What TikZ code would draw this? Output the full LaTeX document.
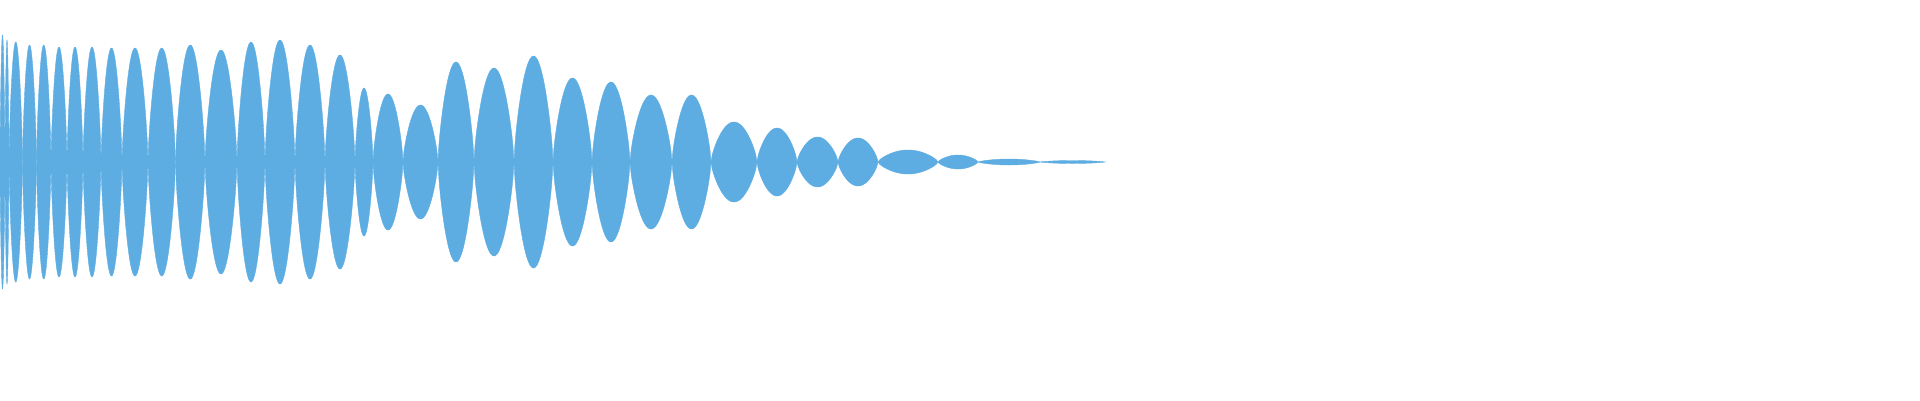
\documentclass[tikz,border=0pt]{standalone}
\definecolor{wavec}{HTML}{5DADE2}
\begin{document}
\begin{tikzpicture}[x=1pt,y=-1pt,wave/.style={fill=wavec,draw=wavec,line width=0.4pt}]
\useasboundingbox (0,0) rectangle (1920,400);
\foreach \a/\b/\t in {0/5/35,5/9/40,9/22.5/42,22.5/36.5/45,36.5/51/45,51/67/47,67/83/47,83/101/47,101/122/48,122/148/48,148/175.5/48,175.5/205/45,205/237/50,237/265/42,265/295/40,295/325/45,325/355/55,355/373/88,373/403/94,403/438/105,438/474/62,474/514/68,514/553/56,553/592/78,592/630/82,630/672/95,672/711/95,711/757/122,757/797/128,797/838/137,838/878/138,878/938/150,938/978/155,978/1040/159,1040/1105/160.5}{
  \fill[wave] plot[domain=0:180,samples=41] ({\a+(\b-\a)*\x/180},{162-(162-\t)*(sin(\x))^0.7})
    -- plot[domain=180:0,samples=41] ({\a+(\b-\a)*\x/180},{162+(162-\t)*(sin(\x))^0.7}) -- cycle;
}
\end{tikzpicture}
\end{document}
